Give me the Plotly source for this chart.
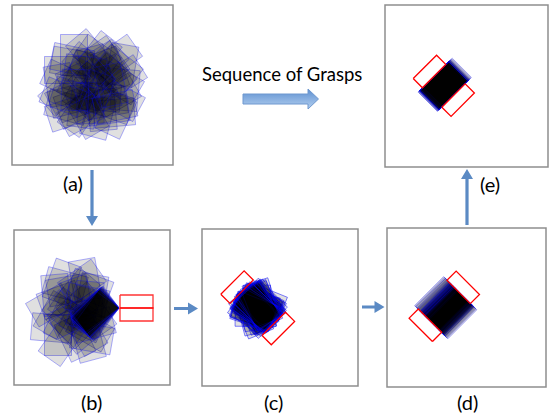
import numpy as np
import plotly.graph_objects as go

# ---------------- data: object poses (offsets in px, angles in deg) ----------------
# panel (a): wide uncertainty cloud around the panel centre
a_dx = [-20, 5, 18, -8, 25, -28, 10, -15, 0, 30, -25, 12, -5, 22, -18, 8, -30, 15, -10, 28,
        -22, 3, 20, -12, 33, -3, 26, -27, 6, -16, 14, -6, 24, -32, 10, -20, 2, 17, -9, 29,
        -24, 11, -14, 21, -2, 31, -19, 7, -26, 16, -7, 4, 27, -11, 19, -29, 13, 0, -17, 23]
a_dy = [-22, -28, -15, 5, 10, -5, 25, 18, 0, -20, 22, -8, 30, 28, -30, 12, 8, -25, -12, -2,
        15, -18, 20, 28, 5, -32, -28, -15, 32, 2, 18, -20, 30, 0, -10, -25, 12, -20, 22, 15,
        28, 5, -5, -10, 18, -8, 10, -30, 20, 25, -15, 8, -18, 30, 0, 12, -22, -12, 5, 22]
a_ang = [10, 35, 70, 120, 150, 25, 85, 160, 45, 100, 15, 130, 60, 175, 90, 5, 140, 55, 110, 30,
         165, 75, 20, 125, 95, 50, 145, 0, 105, 65, 170, 40, 115, 80, 155, 12, 135, 58, 98, 28,
         162, 72, 118, 42, 88, 148, 18, 128, 62, 172, 8, 108, 38, 152, 78, 22, 138, 48, 92, 168]

# panel (b): poses pushed against the gripper tip, plus the remaining spread
b_pin_ang = [-45, -43, -47, -40, -50, -44, -46, -38, -52, -42, -48, -45, -41, -49, -36, -54,
             -45, -44, -46, -39]
b_dx = [-15, 5, -25, 10, -5, -20, 12, -10, 0, -28, 8, -18, 3, -12, 14, -22, -3, 10, -30, 6,
        -8, -16, 12, -24, 2, -6, 9, -19, -1, 13, -14, 4, -9, 7]
b_dy = [-25, -30, 5, 20, 28, -10, -15, 15, -5, 18, 30, -28, 12, -20, 5, 25, -18, -22, -5, 22,
        0, 10, 28, -15, -28, 20, -8, 32, -12, 15, 3, -2, 8, -10]
b_ang = [15, 80, 120, 30, 65, 160, 100, 45, 140, 5, 75, 110, 25, 170, 55, 90, 130, 20, 150, 60,
         35, 115, 10, 85, 145, 50, 95, 125, 70, 165, 40, 105, 155, 12]

# panel (c): after the first squeeze (offsets along jaw tangent / normal)
c_t = [-8, -5, -2, 0, 3, 6, 8, -7, -4, -1, 1, 4, 7, -6, -3, 0, 2, 5, -8, 8,
       -5, -2, 2, 6, -7, -3, 0, 3, 7, -4, 1, 4, -6, 5, -1, 0, 2, -2, 6, -5,
       -3, 1, 3, -1, 0, 4, -4, 2, -2, 0, 5, -5, 1, -1, 3, -3, 0, 2, -2, 0]
c_n = [0, 1, -1, 0, 2, -2, 0, 1, -1, 0, 2, -1, 0, 1, -2, 0, 1, -1, 0, 2,
       0, -1, 1, 0, -2, 1, 0, -1, 2, 0, 1, -1, 0, 2, -2, 0, 1, -1, 0, 1,
       -1, 0, 1, 0, -1, 0, 1, -1, 0, 1, 0, -1, 0, 1, 0, -1, 1, 0, -1, 0]
c_ang = [45, 30, 60, 20, 70, 50, 35, 55, 25, 65, 40, 15, 75, 48, 28, 62, 38, 52, 22, 68,
         45, 33, 57, 18, 72, 42, 10, 80, 47, 27, 63, 37, 53, 0, 90, 44, 32, 58, 24, 66,
         46, 36, 54, 26, 64, 41, 49, 31, 59, 43, 21, 69, 39, 51, 29, 61, 44, 34, 56, 45]

# panel (d): orientation fixed, position uncertain along the jaws
d_t = [-8, -7, -6, -5, -4, -3, -2, -1, 0, 0, 1, 1, 2, 2, 3, 3, 3, 4, 4, 4, 5,
       5, 5, 6, 6, 6, 7, 7, 8, 8, 9, 10, 11, 12, 0, 1, 2, 3, 4, 5, 6, 7]
d_ang = [-45, -45, -44, -46, -45, -45, -44, -46, -45, -45, -45, -44, -46, -45, -45, -45,
         -45, -45, -45, -44, -46, -45, -45, -44, -46, -45, -45, -44, -46, -45, -45, -45,
         -45, -45, -45, -45, -45, -45, -45, -45, -45, -45]

# panel (e): nearly a single pose
e_t = [-2, -2, -1, -1, 0, 0, 0, 0, 0, 0, 0, 0, 1, 1, 1, 2, 2, 3, 4, 5,
       0, 0, 0, 0, 1, -1, 0, 0, 1, 0]
e_ang = [-45, -45, -45, -44, -45, -46, -45, -45, -45, -45, -45, -45, -45, -44, -46, -45, -45, -45, -45, -45,
         -45, -45, -45, -45, -45, -45, -45, -45, -45, -45]

panel_labels = ["(a)", "(b)", "(c)", "(d)", "(e)"]
title_text = "Sequence of Grasps"

# ---------------- geometry / styles ----------------
OBJ_L, OBJ_W = 41, 27
FIN_L, FIN_W = 33, 13
OBJ_FILL = "rgba(0,0,0,0.12)"
OBJ_LINE = "rgba(10,10,245,0.32)"
OBJ_LINE_C = "rgba(0,0,255,0.5)"
ARROW = "#5b8ac4"

panels = {  # x0, y0, x1, y1 in px
    "a": (12, 5, 173, 165),
    "b": (14, 230, 170, 385),
    "c": (202, 229, 358, 386),
    "d": (387, 228, 546, 387),
    "e": (385, 5, 548, 167),
}
label_pos = [(73, 183), (91, 402), (273, 402), (467, 402), (490, 184)]


def corners(cx, cy, ang, L, W):
    a = np.deg2rad(ang)
    u = np.array([np.cos(a), np.sin(a)])
    v = np.array([-np.sin(a), np.cos(a)])
    pts = [np.array([cx, cy]) + sl * L / 2 * u + sw * W / 2 * v
           for sl, sw in [(1, 1), (1, -1), (-1, -1), (-1, 1)]]
    pts.append(pts[0])
    return [p[0] for p in pts], [p[1] for p in pts]


fig = go.Figure()


def add_obj(cx, cy, ang, line=OBJ_LINE):
    xs, ys = corners(cx, cy, ang, OBJ_L, OBJ_W)
    fig.add_trace(go.Scatter(x=xs, y=ys, mode="lines", fill="toself", fillcolor=OBJ_FILL,
                             line=dict(color=line, width=1), hoverinfo="skip",
                             showlegend=False))


def add_gripper(cx, cy, nang, gap, color="red"):
    n = np.array([np.cos(np.deg2rad(nang)), np.sin(np.deg2rad(nang))])
    for s in (1, -1):
        c = np.array([cx, cy]) + s * (gap / 2 + FIN_W / 2) * n
        xs, ys = corners(c[0], c[1], nang + 90, FIN_L, FIN_W)
        fig.add_trace(go.Scatter(x=xs, y=ys, mode="lines", line=dict(color=color, width=1.3),
                                 hoverinfo="skip", showlegend=False))


# (a)
acx, acy = 92, 85
for dx, dy, ang in zip(a_dx, a_dy, a_ang):
    add_obj(acx + dx, acy + dy, ang)

# (b)
bcx, bcy = 80, 310
for dx, dy, ang in zip(b_dx, b_dy, b_ang):
    add_obj(bcx + dx, bcy + dy, ang)
tip = np.array([119.0, 308.0])
for ang in b_pin_ang:
    xs, ys = corners(0, 0, ang, OBJ_L, OBJ_W)
    k = int(np.argmax(xs[:4]))
    add_obj(tip[0] - xs[k], tip[1] - ys[k], ang)
add_gripper(136.5, 308, 90, 0, color="rgba(255,0,0,0.8)")

# (c)
gc = np.array([257.7, 307.8])
tc = np.array([-1, 1]) / np.sqrt(2)
nc = np.array([1, 1]) / np.sqrt(2)
for t, nn, ang in zip(c_t, c_n, c_ang):
    p = gc + t * tc + nn * nc
    add_obj(p[0], p[1], ang, line=OBJ_LINE_C)
add_gripper(gc[0], gc[1], 45, 45.4)

# (d)
gd = np.array([444.3, 306.3])
td = np.array([1, 1]) / np.sqrt(2)
for t, ang in zip(d_t, d_ang):
    p = gd + t * td
    add_obj(p[0], p[1], ang)
add_gripper(gd[0], gd[1], -45, 40.5)

# (e)
ge = np.array([443.8, 85.8])
te = np.array([1, -1]) / np.sqrt(2)
for t, ang in zip(e_t, e_ang):
    p = ge + t * te
    add_obj(p[0], p[1], ang)
add_gripper(ge[0], ge[1], 45, 27.5)

# big block arrow with gradient
bx = [243, 308, 308, 318.5, 308, 308, 243, 243]
by = [94, 94, 89, 99, 109, 104, 104, 94]
fig.add_trace(go.Scatter(x=bx, y=by, mode="lines", fill="toself",
                         fillgradient=dict(type="vertical",
                                           colorscale=[[0, "#b4d0f0"], [1, "#5d8fd0"]]),
                         line=dict(color="#6f98cf", width=1), hoverinfo="skip",
                         showlegend=False))

shapes = []
for k, (x0, y0, x1, y1) in panels.items():
    shapes.append(dict(type="rect", x0=x0, y0=y0, x1=x1, y1=y1, xref="x", yref="y",
                       line=dict(color="#8e8e8e", width=1.5), fillcolor="rgba(0,0,0,0)",
                       layer="above"))


def arrow_path(x0, y0, x1, y1, sw=3.2, hw=12, hl=10):
    d = np.array([x1 - x0, y1 - y0], float)
    Ln = np.linalg.norm(d)
    u = d / Ln
    v = np.array([-u[1], u[0]])
    p0 = np.array([x0, y0], float)
    hb = p0 + (Ln - hl) * u
    pts = [p0 + v * sw / 2, hb + v * sw / 2, hb + v * hw / 2, np.array([x1, y1]),
           hb - v * hw / 2, hb - v * sw / 2, p0 - v * sw / 2]
    return "M " + " L ".join(f"{p[0]:.2f},{p[1]:.2f}" for p in pts) + " Z"


for (x0, y0, x1, y1) in [(92, 170, 92, 226), (174, 308.5, 198, 308.5),
                         (362, 307, 384.5, 307), (467, 225, 467, 169)]:
    shapes.append(dict(type="path", path=arrow_path(x0, y0, x1, y1), xref="x", yref="y",
                       fillcolor=ARROW, line=dict(width=0)))

annotations = [dict(x=x, y=y, text=t, showarrow=False, xref="x", yref="y",
                    font=dict(family="Lato", size=20, color="black"))
               for t, (x, y) in zip(panel_labels, label_pos)]
annotations.append(dict(x=282, y=74, text=title_text, showarrow=False, xref="x", yref="y",
                        font=dict(family="Lato", size=18.5, color="black")))

fig.update_layout(
    width=549, height=413, margin=dict(l=0, r=0, t=0, b=0),
    paper_bgcolor="white", plot_bgcolor="white",
    xaxis=dict(range=[0, 549], visible=False, fixedrange=True),
    yaxis=dict(range=[413, 0], visible=False, fixedrange=True),
    shapes=shapes, annotations=annotations, showlegend=False,
)
fig.write_html("out.html", config={"displayModeBar": False},
               post_script="document.body.style.margin='0px';document.body.style.overflow='hidden';")
